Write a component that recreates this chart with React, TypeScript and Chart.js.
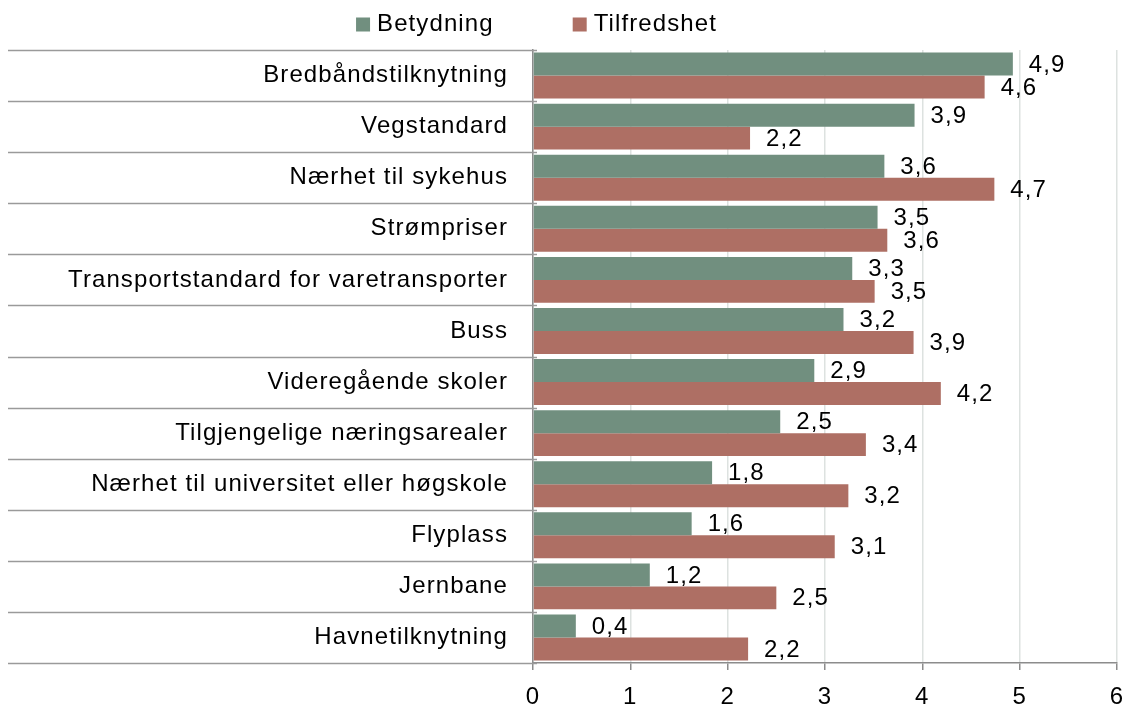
import React, { useEffect, useRef } from "react";
import { Chart, registerables } from "chart.js";

Chart.register(...registerables);

const categories = [
  "Bredbåndstilknytning",
  "Vegstandard",
  "Nærhet til sykehus",
  "Strømpriser",
  "Transportstandard for varetransporter",
  "Buss",
  "Videregående skoler",
  "Tilgjengelige næringsarealer",
  "Nærhet til universitet eller høgskole",
  "Flyplass",
  "Jernbane",
  "Havnetilknytning",
];
const betydning = [4.93, 3.92, 3.61, 3.54, 3.28, 3.19, 2.89, 2.54, 1.84, 1.63, 1.2, 0.44];
const tilfredshet = [4.64, 2.23, 4.74, 3.64, 3.51, 3.91, 4.19, 3.42, 3.24, 3.1, 2.5, 2.21];
const seriesNames = ["Betydning", "Tilfredshet"];
const seriesColors = ["#718f7f", "#ae6f64"];
const xTicks = [0, 1, 2, 3, 4, 5, 6];

const FONT = '"Liberation Sans", Arial, sans-serif';
const FSIZE = 24;
const SPACING = "1.1px";
const fmt = (v: number) => v.toFixed(1).replace(".", ",");

const spacingPlugin = {
  id: "spacing",
  beforeDraw(chart: any) {
    (chart.ctx as any).letterSpacing = SPACING;
  },
};

const separatorPlugin = {
  id: "separators",
  afterDraw(chart: any) {
    const ctx = chart.ctx;
    const y = chart.scales.y;
    const left = chart.chartArea.left;
    ctx.save();
    ctx.strokeStyle = "#9a9a9a";
    ctx.lineWidth = 1.5;
    for (let i = 0; i <= categories.length; i++) {
      const py = Math.round(y.getPixelForValue(i - 0.5)) + 0.5;
      ctx.beginPath();
      ctx.moveTo(8, py);
      ctx.lineTo(left + 4, py);
      ctx.stroke();
    }
    ctx.restore();
  },
};

const valueLabelPlugin = {
  id: "valueLabels",
  afterDatasetsDraw(chart: any) {
    const ctx = chart.ctx;
    ctx.save();
    ctx.letterSpacing = SPACING;
    ctx.font = `${FSIZE}px ${FONT}`;
    ctx.fillStyle = "#000";
    ctx.textAlign = "left";
    ctx.textBaseline = "middle";
    chart.data.datasets.forEach((ds: any, d: number) => {
      const meta = chart.getDatasetMeta(d);
      meta.data.forEach((el: any, i: number) => {
        ctx.fillText(fmt(ds.data[i]), el.x + 16, el.y + 1);
      });
    });
    ctx.restore();
  },
};

const legendPlugin = {
  id: "customLegend",
  afterDraw(chart: any) {
    const ctx = chart.ctx;
    ctx.save();
    ctx.letterSpacing = SPACING;
    ctx.font = `${FSIZE}px ${FONT}`;
    ctx.textBaseline = "middle";
    ctx.textAlign = "left";
    const box = 14;
    const gapBox = 7;
    const gapItem = 79;
    const items = chart.data.datasets.map((ds: any) => ({
      text: ds.label,
      color: ds.backgroundColor,
      w: ctx.measureText(ds.label).width,
    }));
    const total =
      items.reduce((s: number, it: any) => s + box + gapBox + it.w, 0) +
      gapItem * (items.length - 1);
    let x = 536.5 - total / 2;
    const cy = 24.5;
    items.forEach((it: any) => {
      ctx.fillStyle = it.color;
      ctx.fillRect(x, cy - box / 2, box, box);
      ctx.fillStyle = "#000";
      ctx.fillText(it.text, x + box + gapBox, cy);
      x += box + gapBox + it.w + gapItem;
    });
    ctx.restore();
  },
};

export default function App() {
  const ref = useRef<HTMLCanvasElement | null>(null);
  useEffect(() => {
    document.body.style.margin = "0";
    if (!ref.current) return;
    const chart = new Chart(ref.current, {
      type: "bar",
      data: {
        labels: categories,
        datasets: [
          {
            label: seriesNames[0],
            data: betydning,
            backgroundColor: seriesColors[0],
            barPercentage: 1,
            categoryPercentage: 0.9,
          },
          {
            label: seriesNames[1],
            data: tilfredshet,
            backgroundColor: seriesColors[1],
            barPercentage: 1,
            categoryPercentage: 0.9,
          },
        ],
      },
      options: {
        indexAxis: "y",
        responsive: false,
        animation: false,
        devicePixelRatio: 1,
        layout: { padding: { top: 50, right: 11, bottom: 0, left: 0 } },
        plugins: {
          legend: { display: false },
          tooltip: { enabled: false },
        },
        scales: {
          x: {
            type: "linear",
            min: xTicks[0],
            max: xTicks[xTicks.length - 1],
            afterBuildTicks: (s: any) => {
              s.ticks = xTicks.map((v) => ({ value: v }));
            },
            ticks: {
              stepSize: 1,
              color: "#000",
              font: { family: FONT, size: FSIZE },
              padding: 13,
              maxRotation: 0,
              callback: (v: any) => String(v),
            },
            grid: {
              color: "#dde2e0",
              lineWidth: 1.5,
              tickLength: 7,
              tickColor: "#8c8c8c",
            },
            border: { color: "#8c8c8c", width: 1.5 },
            afterFit: (s: any) => {
              s.height = 43;
              s.paddingLeft = 0;
              s.paddingRight = 0;
            },
          },
          y: {
            type: "category",
            grid: { display: false, drawTicks: false },
            border: { color: "#8c8c8c", width: 1.5 },
            ticks: {
              color: "#000",
              font: { family: FONT, size: FSIZE },
              padding: 25,
              autoSkip: false,
            },
            afterFit: (s: any) => {
              s.width = 533;
              s.paddingTop = 0;
              s.paddingBottom = 0;
            },
          },
        },
      },
      plugins: [spacingPlugin, separatorPlugin, valueLabelPlugin, legendPlugin],
    } as any);
    return () => chart.destroy();
  }, []);
  return (
    <div style={{ width: 1128, height: 706 }}>
      <canvas ref={ref} width={1128} height={706} />
    </div>
  );
}
